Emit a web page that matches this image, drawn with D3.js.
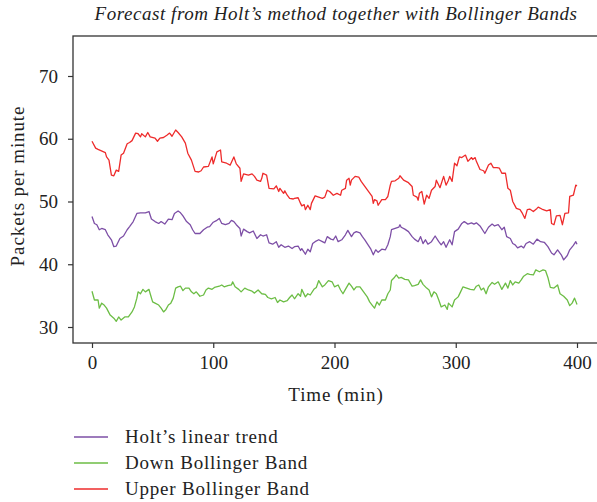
<!DOCTYPE html>
<html>
<head>
<meta charset="utf-8">
<script src="https://cdn.jsdelivr.net/npm/d3@7"></script>
<style>
  body { margin: 0; background: #fff; }
  svg { display: block; }
</style>
</head>
<body>
<svg id="chart"></svg>
<script>
// values: [minute, packets per minute]
const holtTrend = [[0,47.6],[2,46.5],[4,46.3],[6,45.5],[8,45.7],[11,45.5],[13,44.7],[16,43.9],[18,42.8],[20,42.9],[23,44.1],[26,44.5],[29,45.5],[31,46.0],[34,46.8],[37,48.1],[40,48.2],[44,48.2],[47,48.4],[49,47.2],[52,46.8],[55,46.5],[57,46.8],[60,46.4],[63,47.2],[66,47.1],[68,48.1],[71,48.5],[73,48.2],[75,47.7],[78,46.8],[81,46.3],[83,45.5],[85,44.9],[89,44.9],[92,45.5],[95,45.9],[97,46.0],[100,46.7],[103,47.0],[105,47.3],[107,46.5],[110,46.3],[113,46.5],[115,47.0],[117,46.8],[119,46.3],[122,45.7],[123,44.5],[125,45.6],[128,45.2],[130,45.0],[133,45.3],[136,44.1],[139,44.7],[141,44.5],[144,44.7],[146,43.4],[149,43.2],[152,43.6],[154,42.7],[156,43.1],[159,42.7],[162,42.9],[165,42.5],[167,42.8],[170,42.9],[172,42.2],[173,42.5],[176,41.6],[178,42.4],[180,42.0],[182,43.3],[184,43.6],[187,43.9],[190,43.6],[192,43.4],[194,44.4],[197,44.0],[199,43.9],[201,44.5],[203,43.6],[206,43.9],[209,44.7],[211,45.4],[214,44.4],[216,45.0],[218,45.2],[221,45.0],[223,44.4],[225,43.9],[227,43.3],[230,42.4],[232,41.5],[234,42.3],[236,41.9],[239,42.4],[242,42.3],[244,43.1],[246,44.4],[247,45.5],[250,45.7],[253,45.9],[254,46.3],[255,45.9],[258,45.6],[261,45.2],[264,44.4],[266,44.0],[269,43.6],[271,44.4],[273,43.3],[275,43.9],[277,43.2],[280,43.6],[283,44.5],[286,43.6],[288,43.1],[290,43.6],[292,42.7],[295,43.9],[297,43.1],[299,45.2],[302,45.6],[305,46.5],[307,46.8],[310,46.4],[313,46.6],[315,46.4],[317,46.6],[320,46.1],[324,44.9],[327,45.9],[330,46.4],[332,46.1],[335,46.3],[338,45.5],[340,45.9],[342,44.4],[345,44.1],[347,43.3],[349,43.1],[351,42.6],[354,42.9],[356,42.6],[358,43.3],[361,43.6],[364,43.2],[367,44.0],[370,43.6],[373,43.5],[376,42.8],[379,41.8],[381,41.5],[384,42.3],[387,41.5],[389,40.7],[392,41.4],[394,42.3],[397,43.0],[399,43.6],[400,43.2]];

const downBand = [[0,35.7],[2,34.3],[5,34.3],[6,33.0],[8,33.8],[10,33.5],[12,33.0],[15,31.9],[18,31.4],[20,30.9],[22,31.6],[24,31.1],[27,31.6],[30,31.6],[33,32.4],[35,33.2],[37,34.6],[38,35.6],[40,35.3],[42,36.0],[44,35.6],[47,36.0],[48,35.3],[50,34.0],[52,33.8],[55,33.5],[57,33.0],[59,32.4],[61,32.8],[63,33.5],[65,33.8],[67,34.6],[69,36.2],[71,36.4],[73,36.5],[75,35.8],[77,36.2],[80,36.2],[82,35.6],[84,35.3],[86,35.6],[89,34.9],[92,35.1],[94,35.9],[96,36.2],[99,36.0],[101,36.3],[105,36.5],[107,36.7],[109,36.4],[112,36.6],[115,36.7],[116,37.2],[118,36.4],[121,36.0],[123,35.6],[126,36.2],[129,35.9],[132,35.7],[134,35.4],[137,35.9],[140,35.3],[143,35.2],[145,34.7],[148,34.5],[151,34.7],[153,33.9],[155,34.3],[158,34.0],[161,34.2],[163,34.7],[165,35.1],[167,34.5],[170,35.3],[172,34.9],[173,36.0],[176,34.8],[178,35.3],[180,35.1],[183,36.0],[185,36.3],[187,37.4],[190,36.4],[192,36.7],[195,37.4],[198,37.2],[200,36.4],[203,36.7],[205,35.9],[207,35.3],[209,36.0],[212,37.0],[214,36.5],[216,35.9],[218,36.4],[221,36.4],[224,35.6],[227,34.8],[229,34.0],[231,33.5],[233,33.0],[235,34.0],[237,33.5],[239,34.3],[242,34.3],[244,35.3],[246,35.9],[247,37.4],[249,37.8],[251,38.3],[253,37.8],[255,37.9],[258,37.6],[261,37.5],[264,36.5],[266,36.6],[269,36.8],[271,37.5],[273,36.8],[276,36.2],[278,35.9],[280,34.8],[282,35.6],[284,35.3],[286,34.3],[288,33.2],[291,33.5],[293,32.8],[294,33.8],[297,33.2],[299,34.3],[302,34.8],[304,35.6],[306,36.4],[309,36.2],[312,36.0],[315,35.9],[317,36.5],[319,36.7],[321,35.9],[323,36.2],[325,35.3],[327,36.4],[330,37.1],[332,36.8],[335,37.2],[337,36.4],[338,36.0],[341,37.0],[343,36.2],[345,37.4],[347,36.7],[349,37.2],[352,37.0],[354,37.5],[356,38.1],[359,38.5],[361,38.4],[364,38.3],[366,39.1],[369,38.8],[372,39.1],[374,39.0],[376,37.9],[378,36.3],[381,36.2],[384,36.7],[386,35.3],[389,34.9],[392,34.3],[394,33.4],[396,33.8],[398,34.6],[400,33.6]];

const upperBand = [[0,59.6],[3,58.5],[5,58.3],[11,57.8],[12,57.1],[14,56.6],[16,54.2],[18,54.1],[20,55.0],[22,54.8],[24,57.4],[26,57.7],[29,59.2],[31,59.4],[33,59.7],[36,60.9],[38,60.8],[40,60.3],[41,60.8],[44,60.3],[46,61.0],[48,60.3],[52,60.1],[54,59.6],[56,60.1],[59,60.2],[62,60.6],[64,60.9],[66,60.4],[69,61.4],[71,61.0],[74,60.3],[77,59.3],[79,57.7],[82,56.6],[85,54.8],[88,54.7],[90,54.9],[92,55.5],[96,55.6],[99,57.1],[100,56.0],[103,57.9],[106,58.2],[107,56.3],[111,56.1],[114,55.8],[117,57.1],[119,56.0],[122,55.3],[123,53.2],[125,54.4],[129,54.2],[132,54.4],[134,54.0],[136,53.4],[139,53.2],[140,53.7],[141,54.5],[144,54.2],[146,52.1],[150,52.0],[152,52.5],[154,51.6],[155,52.1],[158,51.3],[159,51.7],[161,51.0],[163,50.5],[166,50.4],[167,50.5],[170,50.6],[172,49.7],[173,49.3],[175,49.5],[176,48.7],[178,49.4],[180,48.7],[181,49.7],[183,50.5],[184,50.9],[187,50.7],[190,50.5],[192,50.7],[194,51.8],[196,51.6],[199,51.0],[202,51.3],[205,51.0],[206,51.8],[209,52.1],[210,53.4],[212,53.7],[213,52.6],[214,53.4],[217,54.0],[220,53.9],[222,53.2],[225,52.4],[228,51.6],[231,50.8],[232,49.7],[233,50.3],[235,50.1],[236,49.4],[239,50.3],[242,50.3],[244,50.8],[246,52.6],[247,53.2],[250,53.3],[253,53.7],[254,54.1],[257,53.4],[261,53.0],[264,52.4],[265,51.0],[268,50.7],[269,50.2],[270,51.3],[272,51.6],[274,49.6],[276,51.0],[278,50.5],[280,51.8],[283,52.4],[284,53.4],[287,52.2],[290,54.0],[292,52.6],[294,53.4],[295,54.0],[297,53.2],[299,56.1],[301,55.7],[303,57.1],[305,57.0],[308,57.4],[310,56.4],[313,57.0],[314,56.7],[316,57.0],[317,56.4],[320,55.1],[323,54.9],[324,54.5],[327,55.8],[329,56.1],[331,55.4],[334,55.4],[336,55.3],[338,54.5],[341,54.5],[343,52.1],[345,51.8],[347,50.0],[350,48.9],[353,48.7],[355,48.1],[357,47.3],[359,48.7],[361,48.8],[364,48.4],[367,48.9],[368,49.1],[371,48.8],[375,48.5],[378,48.7],[379,46.5],[381,46.3],[383,47.7],[386,47.8],[388,46.3],[390,48.1],[393,48.2],[394,50.8],[397,51.0],[399,52.6],[400,52.5]];

const xTicks = [0, 100, 200, 300, 400];
const yTicks = [30, 40, 50, 60, 70];
const seriesNames = ["Holt\u2019s linear trend", "Down Bollinger Band", "Upper Bollinger Band"];
const seriesColors = ["#7d4fa6", "#6cbd45", "#ee2b2b"];

const W = 597, H = 502;
const font = "'Liberation Serif', 'DejaVu Serif', serif";
const axisColor = "#333";
const textColor = "#222";

const svg = d3.select("#chart")
    .attr("width", W)
    .attr("height", H)
    .style("font-family", font);

// plot frame runs off the right edge of the picture
const frame = {left: 73, top: 36, right: 605, bottom: 343};

const x = d3.scaleLinear().domain([0, 400]).range([92, 577]);
const y = d3.scaleLinear().domain([30, 70]).range([327, 76]);

// title
svg.append("text")
    .attr("x", 336)
    .attr("y", 20)
    .attr("text-anchor", "middle")
    .attr("font-style", "italic")
    .attr("font-size", "19px")
    .attr("letter-spacing", "0.55px")
    .attr("fill", textColor)
    .text("Forecast from Holt\u2019s method together with Bollinger Bands");

// frame
svg.append("rect")
    .attr("x", frame.left)
    .attr("y", frame.top)
    .attr("width", frame.right - frame.left)
    .attr("height", frame.bottom - frame.top)
    .attr("fill", "none")
    .attr("stroke", axisColor)
    .attr("stroke-width", 1.3);

// axes
let xAxis = svg.append("g")
    .attr("transform", `translate(0,${frame.bottom})`)
    .call(d3.axisBottom(x).tickValues(xTicks).tickSize(5).tickSizeOuter(0).tickPadding(8));
xAxis.select(".domain").remove();

let yAxis = svg.append("g")
    .attr("transform", `translate(${frame.left},0)`)
    .call(d3.axisLeft(y).tickValues(yTicks).tickSize(5).tickSizeOuter(0).tickPadding(10));
yAxis.select(".domain").remove();

svg.selectAll(".tick line").attr("stroke", axisColor).attr("stroke-width", 1.2);
svg.selectAll(".tick text")
    .attr("font-family", font)
    .attr("font-size", "19px")
    .attr("fill", textColor);

// axis titles
svg.append("text")
    .attr("x", 336)
    .attr("y", 401)
    .attr("text-anchor", "middle")
    .attr("font-size", "19px")
    .attr("letter-spacing", "0.9px")
    .attr("fill", textColor)
    .text("Time (min)");

svg.append("text")
    .attr("transform", "translate(24,186) rotate(-90)")
    .attr("text-anchor", "middle")
    .attr("font-size", "19px")
    .attr("letter-spacing", "0.9px")
    .attr("fill", textColor)
    .text("Packets per minute");

// series
const line = d3.line()
    .x(d => x(d[0]))
    .y(d => y(d[1]));

[holtTrend, downBand, upperBand].forEach((data, i) => {
    svg.append("path")
        .attr("d", line(data))
        .attr("fill", "none")
        .attr("stroke", seriesColors[i])
        .attr("stroke-width", 1.3)
        .attr("stroke-linejoin", "round");
});

// legend
const legend = svg.append("g");
seriesNames.forEach((name, i) => {
    let ly = 437 + i * 26;
    legend.append("line")
        .attr("x1", 74).attr("x2", 108)
        .attr("y1", ly).attr("y2", ly)
        .attr("stroke", seriesColors[i])
        .attr("stroke-width", 1.3);
    legend.append("text")
        .attr("x", 125)
        .attr("y", ly + 6)
        .attr("font-size", "19px")
        .attr("letter-spacing", "0.8px")
        .attr("fill", textColor)
        .text(name);
});
</script>
</body>
</html>
